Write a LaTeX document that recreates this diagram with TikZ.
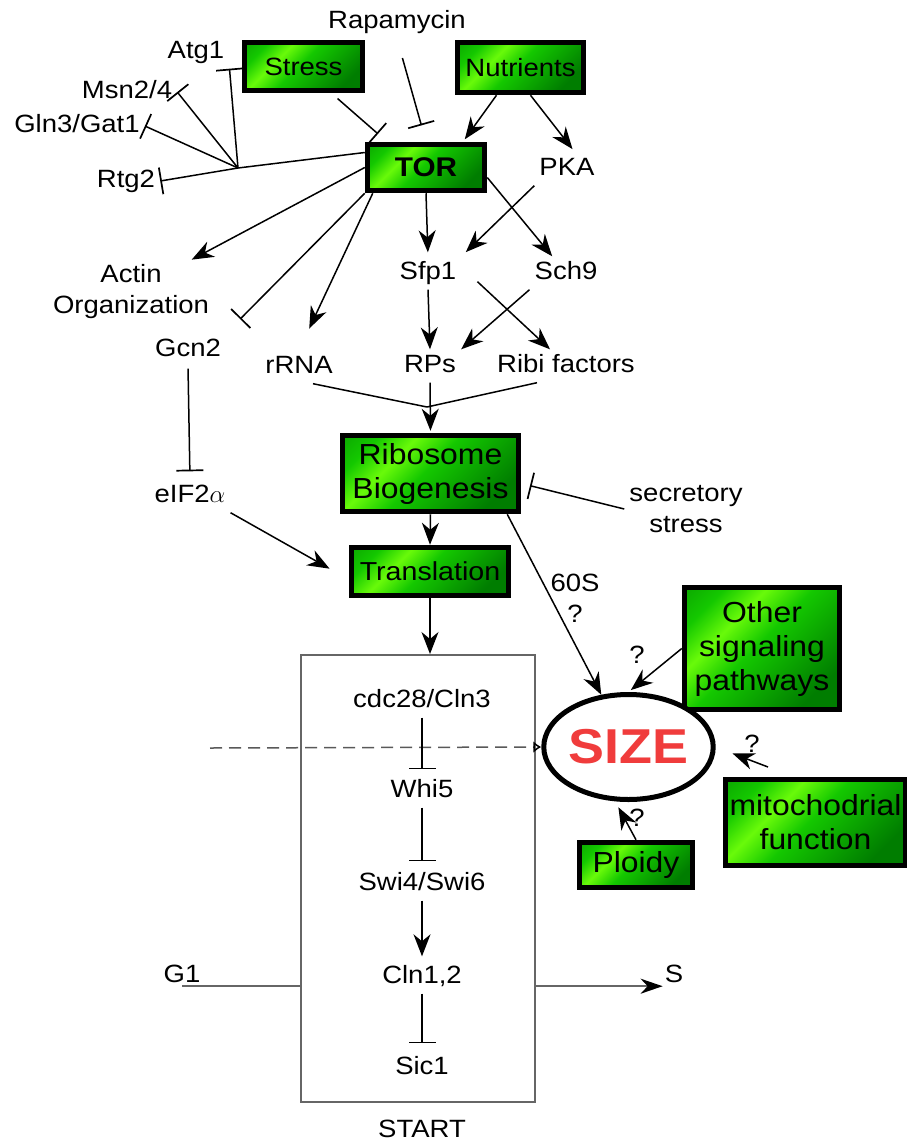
\documentclass[tikz,border=0pt]{standalone}
\usepackage{amsmath}
\usepackage{fontspec}
\setmainfont{Liberation Sans}[FakeStretch=1.1]
\usepackage{tikz}
\usetikzlibrary{arrows.meta,shapes.geometric,calc}
\usepackage{xcolor}
\definecolor{gdark}{RGB}{0,125,0}
\definecolor{gmid}{RGB}{20,200,0}
\definecolor{glight}{RGB}{105,250,10}
\definecolor{sizered}{RGB}{240,60,60}
\pgfdeclarehorizontalshading{greenshade}{100bp}{color(0bp)=(gdark); color(25bp)=(gmid); color(36bp)=(glight); color(48bp)=(gmid); color(75bp)=(gdark); color(100bp)=(gdark)}

\begin{document}
\begin{tikzpicture}[x=1pt, y=-1pt, green box/.style={draw, line width=5.5pt, shade, shading=greenshade, shading angle=-45, inner sep=0pt, align=center, font=\fontsize{25}{31}\selectfont}, big box/.style={green box, font=\fontsize{29}{34}\selectfont}, label node/.style={inner sep=5pt, text height=18pt, text depth=5pt, font=\fontsize{25}{31}\selectfont}, two line/.style={inner sep=5pt, align=center, font=\fontsize{25}{31}\selectfont}, act/.style={line width=1.5pt, -{Stealth[length=22pt, width=17pt, inset=7pt]}}, inh/.style={line width=1.5pt, -{Bar[width=27pt, line width=1.7pt]}}, plain/.style={line width=1.5pt}]
\fill[white] (0,0) rectangle (906,1144);
\useasboundingbox (0,0) rectangle (906,1144);
\node[label node] (rapa) at (397,22) {Rapamycin};
\node[green box, minimum width=118pt, minimum height=48pt] (stress) at (303.5,66.5) {Stress};
\node[green box, minimum width=126pt, minimum height=50pt] (nut) at (520.5,67.5) {Nutrients};
\node[green box, minimum width=117pt, minimum height=46pt, font=\fontsize{27}{31}\selectfont\bfseries] (tor) at (426,167.5) {TOR};
\node[label node] (atg) at (196,52) {Atg1};
\node[label node] (msn) at (127,92) {Msn2/4};
\node[label node] (gln) at (77,126) {Gln3/Gat1};
\node[label node] (rtg) at (126,181) {Rtg2};
\node[label node] (pka) at (567,169) {PKA};
\node[label node] (sfp) at (428,273) {Sfp1};
\node[label node] (sch) at (566,273) {Sch9};
\node[two line] (actin) at (131,292) {Actin\\Organization};
\node[label node] (gcn) at (188,350) {Gcn2};
\node[label node] (rrna) at (299,367) {rRNA};
\node[label node] (rps) at (430,366) {RPs};
\node[label node] (ribi) at (566,366) {Ribi factors};
\node[big box, minimum width=176pt, minimum height=76pt] (ribo) at (430.5,473.5) {Ribosome\\Biogenesis};
\node[label node] (eif) at (190,496) {eIF2$\alpha$};
\node[two line] (secr) at (686,509) {secretory\\stress};
\node[green box, minimum width=157pt, minimum height=48pt, font=\fontsize{26}{31}\selectfont] (trans) at (430,571.5) {Translation};
\node[two line] (q60) at (575,598) {60S\\?};
\node[big box, minimum width=155pt, minimum height=122pt] (other) at (762,648.5) {Other\\signaling\\pathways};
\node[ellipse, draw, line width=5pt, fill=white, minimum width=148pt, minimum height=105pt, inner sep=0pt, text=sizered, font=\fontsize{49}{55}\selectfont\bfseries] (size) at (628.5,747) {SIZE};
\node[big box, minimum width=180pt, minimum height=86pt] (mito) at (815.5,822.5) {mitochodrial\\function};
\node[big box, minimum width=113pt, minimum height=45pt] (ploidy) at (636,865) {Ploidy};
\node[label node] (qo) at (637,657) {?};
\node[label node] (qm) at (752,746) {?};
\node[label node] (qp) at (637,820) {?};
\node[draw=black!60, line width=2pt, minimum width=234pt, minimum height=447pt] (start) at (418,878.5) {};
\node[label node] (startlbl) at (422,1131) {START};
\node[label node] (cdc) at (422,701) {cdc28/Cln3};
\node[label node] (whi) at (422,791) {Whi5};
\node[label node] (swi) at (422,884) {Swi4/Swi6};
\node[label node] (cln) at (422,977) {Cln1,2};
\node[label node] (sic) at (422,1068) {Sic1};
\node[label node] (g1) at (182,975.5) {G1};
\node[label node, inner sep=2pt] (s) at (674,975.5) {S};
\coordinate (jn) at (238,168);
\coordinate (cv) at (427,407);
\coordinate (mitotail) at (768,767);
\coordinate (dash) at (210,748);
\draw[plain] ([yshift=15pt]tor.west) -- (jn);
\draw[inh] (jn) -- (atg.south east);
\draw[inh] (jn) -- (msn.east);
\draw[inh] (jn) -- (gln.east);
\draw[inh] (jn) -- (rtg.east);
\draw[inh, shorten <=8pt, shorten >=12pt] ([xshift=28pt]stress.south) -- ([xshift=-39pt]tor.north);
\draw[inh, shorten <=20pt, shorten >=17pt] (rapa.south) -- (tor.north);
\draw[act, shorten >=3pt] ([xshift=-24pt]nut.south) -- ([xshift=37pt]tor.north);
\draw[act, shorten >=4pt] ([xshift=10pt]nut.south) -- ([xshift=8pt]pka.north);
\draw[act, shorten >=4pt] (tor.south) -- (sfp.north);
\draw[act] ([yshift=-10pt]tor.east) -- (sch);
\draw[act, shorten >=6pt] (pka.south west) -- (sfp.north east);
\draw[act] (sfp.south) -- (rps.north);
\draw[act] ([xshift=16pt, yshift=8pt]sfp.south east) -- ([xshift=-16pt]ribi.north);
\draw[act] (sch.south west) -- (rps.north east);
\draw[act] (tor.west) -- (actin);
\draw[inh, shorten >=20pt] (tor.south west) -- (gcn.north east);
\draw[act, shorten >=24pt] ([xshift=8pt]tor.south west) -- (rrna.north);
\draw[plain] ([xshift=14pt]rrna.south) -- (cv);
\draw[plain] ([xshift=-29pt]ribi.south) -- (cv);
\draw[act, shorten >=2pt] (rps.south) -- (ribo.north);
\draw[inh, shorten <=2pt, shorten >=8pt] (gcn.south) -- (eif.north);
\draw[act, shorten >=22pt] (eif.south east) -- ([yshift=-8pt]trans.west);
\draw[inh, shorten >=9pt] (secr.west) -- ([yshift=-10pt]ribo.east);
\draw[act] (ribo.south) -- (trans.north);
\draw[act] (trans.south) -- (trans.south |- start.north);
\draw[act] ([xshift=-14pt]ribo.south east) -- (size);
\draw[act, shorten >=3pt] (other.west) -- (size.north);
\draw[act, shorten >=18pt] (mitotail) -- (size.east);
\draw[act, shorten >=6pt] (ploidy.north) -- ([xshift=-13pt]size.south);
\draw[black!65, dash pattern=on 12pt off 7pt, line width=1.5pt, -{Latex[open, black, length=8pt, width=12pt]}] (dash) -- (size.west);
\draw[inh, shorten >=5pt] (cdc.south) -- (whi.north);
\draw[inh, shorten >=6pt] (whi.south) -- (swi.north);
\draw[act, shorten >=4pt] (swi.south) -- (cln.north);
\draw[inh, shorten >=8pt] (cln.south) -- (sic.north);
\draw[black!60, line width=2pt] ([yshift=6pt]g1.south) -- ([yshift=6pt]g1.south -| start.west);
\draw[black!60, line width=2pt, -{Stealth[black, length=22pt, width=15pt, inset=7pt]}] ([yshift=6pt]g1.south -| start.east) -- ([yshift=6pt]g1.south -| s.west);
\end{tikzpicture}
\end{document}
